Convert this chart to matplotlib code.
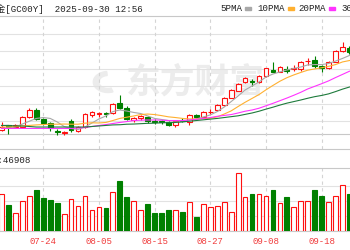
import matplotlib.pyplot as plt
from matplotlib.patches import Rectangle, Wedge
import numpy as np

# daily bars, 2025 (COMEX gold, continuous contract)
dates = ['07-16', '07-17', '07-18', '07-21', '07-22', '07-23', '07-24', '07-25', '07-28', '07-29',
         '07-30', '07-31', '08-01', '08-04', '08-05', '08-06', '08-07', '08-08', '08-11', '08-12',
         '08-13', '08-14', '08-15', '08-18', '08-19', '08-20', '08-21', '08-22', '08-25', '08-26',
         '08-27', '08-28', '08-29', '09-01', '09-02', '09-03', '09-04', '09-05', '09-08', '09-09',
         '09-10', '09-11', '09-12', '09-15', '09-16', '09-17', '09-18', '09-19', '09-22', '09-23',
         '09-24']
opens = [3350, 3379, 3367, 3367, 3424, 3464, 3410, 3390, 3344, 3333, 3404, 3347, 3367, 3436, 3444,
         3447, 3447, 3504, 3478, 3407, 3421, 3424, 3401, 3401, 3396, 3379, 3407, 3398, 3436, 3424,
         3453, 3464, 3490, 3535, 3575, 3621, 3629, 3626, 3655, 3692, 3683, 3695, 3695, 3695, 3743,
         3749, 3712, 3701, 3740, 3800, 3817]
highs = [3396, 3381, 3384, 3430, 3473, 3478, 3418, 3396, 3353, 3344, 3413, 3373, 3447, 3461, 3455,
         3455, 3504, 3550, 3487, 3424, 3436, 3430, 3413, 3407, 3401, 3407, 3416, 3441, 3441, 3458,
         3470, 3498, 3538, 3584, 3618, 3652, 3639, 3664, 3703, 3738, 3712, 3712, 3718, 3743, 3760,
         3769, 3723, 3743, 3806, 3849, 3829]
lows = [3344, 3327, 3361, 3361, 3418, 3407, 3381, 3344, 3321, 3324, 3341, 3341, 3364, 3424, 3424,
        3424, 3441, 3470, 3407, 3398, 3407, 3390, 3384, 3387, 3373, 3367, 3396, 3379, 3418, 3418,
        3441, 3458, 3484, 3532, 3572, 3618, 3598, 3618, 3652, 3678, 3681, 3675, 3689, 3689, 3723,
        3701, 3678, 3698, 3738, 3795, 3783]
closes = [3367, 3367, 3376, 3424, 3464, 3413, 3390, 3361, 3339, 3339, 3350, 3367, 3441, 3450, 3447,
          3444, 3498, 3478, 3413, 3418, 3427, 3401, 3398, 3396, 3379, 3404, 3401, 3436, 3424, 3453,
          3455, 3493, 3532, 3578, 3612, 3646, 3624, 3658, 3701, 3683, 3709, 3689, 3701, 3740, 3746,
          3715, 3706, 3740, 3803, 3823, 3795]
volumes = [148000, 102800, 70800, 120000, 138800, 162800, 130800, 122800, 112000, 68000, 126800,
           98800, 141200, 82800, 94800, 90800, 154800, 200000, 138000, 119200, 83200, 106800, 72000,
           72000, 84000, 83200, 76000, 114800, 58000, 108000, 94800, 98800, 114800, 74800, 230800,
           137200, 148000, 148000, 141200, 162800, 110800, 134800, 94800, 118800, 118800, 162800,
           141200, 114800, 138800, 184000, 148000]
vol_up = [1, 0, 1, 1, 1, 0, 0, 0, 0, 1, 1, 1, 1, 1, 1, 0, 1, 0, 0, 1, 1, 0, 0, 0, 0, 1, 0, 1, 0, 1,
          1, 1, 1, 1, 1, 1, 0, 1, 1, 0, 1, 0, 1, 1, 1, 0, 0, 1, 1, 1, 0]
ma5 = [3361, 3361, 3367, 3384, 3400, 3416, 3421, 3416, 3396, 3370, 3359, 3353, 3367, 3390, 3413,
       3430, 3455, 3464, 3458, 3450, 3444, 3430, 3416, 3410, 3404, 3401, 3401, 3407, 3413, 3424,
       3436, 3455, 3481, 3512, 3544, 3578, 3601, 3624, 3652, 3669, 3681, 3692, 3701, 3709, 3721,
       3723, 3723, 3729, 3743, 3758, 3775]
ma10 = [3367, 3367, 3370, 3373, 3376, 3379, 3381, 3383, 3383, 3384, 3383, 3383, 3389, 3391, 3390,
        3393, 3404, 3416, 3423, 3430, 3438, 3441, 3438, 3432, 3425, 3421, 3416, 3413, 3413, 3415,
        3417, 3425, 3441, 3459, 3484, 3508, 3530, 3552, 3579, 3604, 3628, 3648, 3664, 3678, 3691,
        3698, 3705, 3713, 3723, 3738, 3746]
ma20 = [3359, 3359, 3359, 3359, 3359, 3359, 3359, 3359, 3359, 3359, 3359, 3361, 3364, 3370, 3376,
        3381, 3387, 3393, 3398, 3404, 3406, 3407, 3407, 3406, 3404, 3404, 3404, 3407, 3411, 3416,
        3421, 3428, 3433, 3438, 3447, 3457, 3464, 3474, 3488, 3502, 3517, 3532, 3548, 3565, 3584,
        3599, 3614, 3630, 3649, 3667, 3685]
ma30 = [3376, 3376, 3373, 3373, 3370, 3367, 3367, 3367, 3367, 3367, 3367, 3367, 3367, 3370, 3373,
        3376, 3379, 3380, 3383, 3384, 3386, 3388, 3389, 3391, 3392, 3393, 3396, 3400, 3404, 3408,
        3412, 3416, 3421, 3426, 3431, 3439, 3447, 3457, 3469, 3480, 3492, 3503, 3512, 3521, 3531,
        3540, 3547, 3556, 3569, 3583, 3595]
tick_dates = ['07-24', '08-05', '08-15', '08-27', '09-08', '09-18']
ma_labels = ['5PMA', '10PMA', '20PMA', '30PMA']
title = '黄金[GC00Y]  2025-09-30 12:56'
vol_text = '成交量:46908'

W, H = 350, 250
RED = '#ff1010'
GREEN = '#008000'
GRID = '#e2e2e2'
BORDER = '#c8c8c8'
MA_COLORS = ['#a8a8a8', '#ffb030', '#ff33ff', '#1e7b3c']
MONO = ['Liberation Mono', 'Noto Sans CJK SC']


def fy(px):
    return 1 - px / H


def price_at(px):
    # vertical pixel position -> price on the candle panel
    return 4091 - 5.7 * px


x = np.arange(len(dates))
o, hi, lo, c = map(np.array, (opens, highs, lows, closes))
up = c >= o
col = np.where(up, RED, GREEN)
tick_idx = [dates.index(d) for d in tick_dates]
x0 = -1.5 / 6.96
xlim = (x0, x0 + W / 6.96)

fig = plt.figure(figsize=(W / 100, H / 100), dpi=100)
fig.patch.set_facecolor('white')

# watermark
fig.text(195 / W, fy(82), '东方财富', fontsize=25, color='#ececec', weight='bold',
         family='Noto Sans CJK SC', ha='center', va='center', zorder=-2)
fig.patches.append(Wedge((108 / W, fy(82)), 0.042, 95, 290, width=0.016, color='#ececec',
                         transform=fig.transFigure, zorder=-2))

# candle panel
ax = fig.add_axes([0, fy(149), 1, (149 - 16) / H])
ax.set_facecolor('none')
ax.set_xlim(*xlim)
ax.set_ylim(price_at(149), price_at(16))
for p in [3400, 3500, 3600, 3700, 3800, 3900]:
    ax.axhline(p, color=GRID, lw=0.8, zorder=0)
ax.axhline(price_at(134), color=BORDER, lw=0.8, zorder=0)
for i in tick_idx:
    ax.axvline(i, color='#d4d4d4', lw=0.8, ls=(0, (3, 3)), zorder=0)
ax.vlines(x, lo, hi, colors=col, lw=0.8, zorder=2)
ax.bar(x, np.maximum(np.abs(c - o), 1.5), 0.68, bottom=np.minimum(o, c),
       color=np.where(up, 'white', GREEN), edgecolor=col, lw=0.8, zorder=3)
for ma, mc in zip([ma5, ma10, ma20, ma30], MA_COLORS):
    ax.plot(x, ma, color=mc, lw=0.8, zorder=4)
ax.set_xticks([])
ax.set_yticks([])
for name, s in ax.spines.items():
    s.set_visible(name in ('top', 'bottom'))
    s.set_color(BORDER)
    s.set_linewidth(0.8)

# volume panel
av = fig.add_axes([0, fy(231), 1, (231 - 167.5) / H])
av.set_facecolor('none')
av.set_xlim(*xlim)
av.set_ylim(0, 254000)
for v in [60000, 120000, 180000]:
    av.axhline(v, color=GRID, lw=0.8, zorder=0)
for i in tick_idx:
    av.axvline(i, color='#d4d4d4', lw=0.8, ls=(0, (3, 3)), zorder=0)
vu = np.array(vol_up) == 1
av.bar(x, volumes, 0.68, color=np.where(vu, 'white', GREEN),
       edgecolor=np.where(vu, RED, GREEN), lw=0.8, zorder=3)
av.set_xticks(tick_idx)
av.set_xticklabels(tick_dates, color='#f03c3c', fontsize=6.5, family=MONO)
av.tick_params(length=0, pad=4.5)
av.set_yticks([])
for name, s in av.spines.items():
    s.set_visible(name in ('top', 'bottom'))
    s.set_color(BORDER)
    s.set_linewidth(0.8)

# header texts
fig.text(-13 / W, fy(8.5), title, fontsize=6.6, family=MONO, color='#222222', va='center')
fig.text(31 / W, fy(160), vol_text, fontsize=6.6, family=MONO, color='#222222',
         va='center', ha='right')
leg_x = [220, 257, 298, 341]
for lx, lab, mc in zip(leg_x, ma_labels, MA_COLORS):
    fig.text(lx / W, fy(8.5), lab, fontsize=6.6, family=MONO, color='#222222', va='center')
    mx = lx + 5.5 * len(lab) + 3
    fig.patches.append(Rectangle((mx / W, fy(10)), 6 / W, 3 / H, color=mc,
                                 transform=fig.transFigure))

fig.savefig('out.png', dpi=100)
